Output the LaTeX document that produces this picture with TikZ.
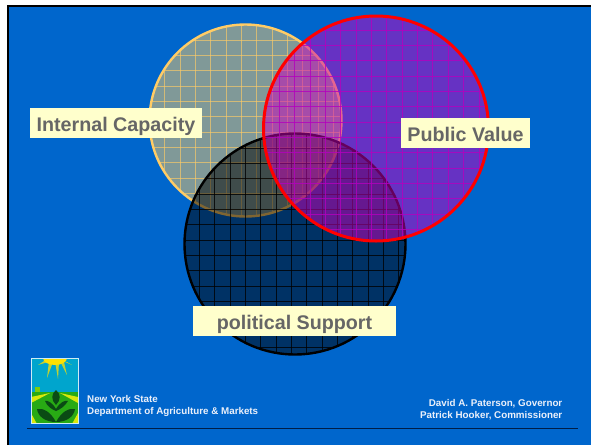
\documentclass[tikz,border=0pt]{standalone}
\usepackage{fontspec}
\setmainfont{Liberation Sans}
\usetikzlibrary{positioning}
\definecolor{slideblue}{RGB}{0,102,204}
\definecolor{capacityline}{RGB}{255,204,102}
\definecolor{valuefill}{RGB}{204,0,187}
\definecolor{valuegrid}{RGB}{180,0,190}
\definecolor{labelfill}{RGB}{255,255,204}
\definecolor{labeltext}{RGB}{102,102,102}
\definecolor{footertext}{RGB}{235,240,250}
\definecolor{rulecolor}{RGB}{0,30,70}
\definecolor{logosky}{RGB}{0,165,205}
\definecolor{logogreen}{RGB}{40,170,20}
\definecolor{logodark}{RGB}{10,75,20}
\definecolor{logosun}{RGB}{255,225,0}

% centre x, centre y, radius, grid x, grid y, fill, fill opacity, grid colour, ring colour, ring width
\newcommand{\gridcircle}[9]{
  \fill[#6,fill opacity=#7] (#1,#2) circle[radius=#3];
  \begin{scope}
    \clip (#1,#2) circle[radius=#3];
    \foreach \k in {-9,...,9} {
      \draw[#8,line width=0.6pt] ({#4+\k*15.35},{#2-#3}) -- ({#4+\k*15.35},{#2+#3});
      \draw[#8,line width=0.6pt] ({#1-#3},{#5+\k*15.35}) -- ({#1+#3},{#5+\k*15.35});
    }
  \end{scope}
  \draw[#9] (#1,#2) circle[radius=#3];
}

\begin{document}
\begin{tikzpicture}[
  x=1pt,y=-1pt,
  labelbox/.style={fill=labelfill,text=labeltext,inner sep=0pt,
    minimum height=29.5pt,text height=16pt,text depth=0pt,
    font=\fontsize{19.7}{22}\selectfont\bfseries},
  footer/.style={text=footertext,inner sep=0pt,align=left,
    font=\fontsize{9.8}{12}\selectfont\bfseries}
]
\useasboundingbox (0,0) rectangle (591,445);

% slide
\fill[white] (0,0) rectangle (591,445);
\fill[slideblue] (8,6) rectangle (591,445);
\draw[black,line width=2.4pt] (8,445) -- (8,6) -- (591,6);

% circles
\gridcircle{245.5}{120.5}{96}{241.3}{116.7}{capacityline}{0.5}{capacityline,draw opacity=.65}{capacityline,line width=2.4pt}
\gridcircle{295}{244}{110.5}{291.3}{240}{black}{0.5}{black,draw opacity=.8}{black,line width=2.4pt}
\gridcircle{376}{128.5}{112.5}{386.7}{122}{valuefill}{0.5}{valuegrid,draw opacity=.8}{red,line width=3pt}

% labels
\node[labelbox,minimum width=172pt] (capacity) at (116,123) {Internal Capacity};
\node[labelbox,minimum width=129pt] (value) at (465.5,133) {Public Value};
\node[labelbox,minimum width=203pt] (support) at (294.5,321) {political Support};

% footer
\node[footer,anchor=north west] (dept) at (87,395.5) {New York State\\Department of Agriculture \& Markets};
\node[footer,anchor=north east,align=right] (names) at (562.5,399.5) {David A. Paterson, Governor\\Patrick Hooker, Commissioner};
\coordinate (ruleleft) at (27,428);
\coordinate (ruleright) at (578,428);
\draw[rulecolor,line width=1pt] (ruleleft) -- (ruleright);

% logo
\begin{scope}
  \clip (31,358.5) rectangle (78,423.5);
  \fill[logosky] (31,358) rectangle (78,392);
  \fill[logogreen] (31,392) rectangle (78,424);
  \fill[logogreen!60!yellow] (35,392) rectangle (40,387);
  \foreach \a/\b/\p/\q in {38/365/44/48,47/378/49/53,58/379/55/59,67/375/60/64,72/365/63/67} {
    \fill[logosun!75!logosky] (\p,361) -- (\a,\b) -- (\q,362) -- cycle;
  }
  \fill[logosun] (55,358) ellipse[x radius=12,y radius=7];
  \fill[yellow!85!green] (31,397) -- (50,393) -- (31,403) -- cycle;
  \fill[yellow!85!green] (78,397) -- (60,393) -- (78,403) -- cycle;
  \fill[yellow!85!green] (31,413) -- (37,424) -- (31,424) -- cycle;
  \fill[yellow!85!green] (78,413) -- (72,424) -- (78,424) -- cycle;
  \fill[logodark] (56,390) .. controls (51,394) and (51,400) .. (56,405) .. controls (61,400) and (61,394) .. (56,390) -- cycle;
  \fill[logodark] (56,409) .. controls (52,402) and (47,400) .. (45,401) .. controls (47,406) and (51,409) .. (56,411) .. controls (61,409) and (65,406) .. (68,401) .. controls (65,400) and (60,402) .. (56,409) -- cycle;
  \fill[logodark] (56,422) .. controls (50,411) and (43,408) .. (37,409) .. controls (38,417) and (46,422) .. (56,422) .. controls (66,422) and (74,417) .. (75,409) .. controls (69,408) and (62,411) .. (56,422) -- cycle;
\end{scope}
\draw[white!80!logosky,line width=0.8pt] (31,358.5) rectangle (78,423.5);
\end{tikzpicture}
\end{document}
